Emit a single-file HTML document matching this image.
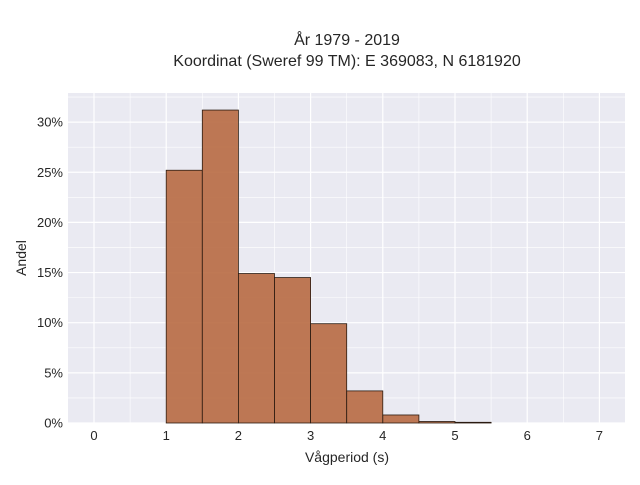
<!DOCTYPE html>
<html><head><meta charset="utf-8"><style>
body{margin:0;background:#fff;font-family:"Liberation Sans",sans-serif;}
svg text{font-family:"Liberation Sans",sans-serif;fill:#262626;}
</style></head><body>
<svg id="c" width="640" height="480">
<rect x="0" y="0" width="640" height="480" fill="#fff"/>
<text x="347" y="45" text-anchor="middle" font-size="16">År 1979 - 2019</text>
<text x="347" y="66" text-anchor="middle" font-size="16">Koordinat (Sweref 99 TM): E 369083, N 6181920</text>
<rect x="68" y="93" width="557" height="330" fill="#eaeaf2"/>
<g id="grid"></g><g id="bars"></g><g id="ticks"></g>
<text x="347" y="462" text-anchor="middle" font-size="14">Vågperiod (s)</text>
<text transform="translate(26,258) rotate(-90)" text-anchor="middle" font-size="14">Andel</text>
</svg>
<script>
const binStarts=[1,1.5,2,2.5,3,3.5,4,4.5,5];
const shares=[25.2,31.2,14.9,14.5,9.9,3.2,0.8,0.15,0.07];
const xTicks=[0,1,2,3,4,5,6,7];
const yTicks=[0,5,10,15,20,25,30];
const binWidth=0.5;
const X=v=>94+v*72.2, Y=v=>423-v*10.03;
const NS='http://www.w3.org/2000/svg';
const g=document.getElementById('grid'),b=document.getElementById('bars'),t=document.getElementById('ticks');
function mk(tag,attrs,parent){const e=document.createElementNS(NS,tag);for(const k in attrs)e.setAttribute(k,attrs[k]);parent.appendChild(e);return e;}
for(let v=-0.5;v<=7.5;v+=0.5){const x=X(v);if(x<68||x>625)continue;
const l=mk('line',{x1:x,x2:x,y1:93,y2:423,stroke:'#fff','stroke-width':Number.isInteger(v)?1.2:0.6},g);

}
for(let v=0;v<=32.5;v+=2.5){const y=Y(v);if(y<93)continue;
const l=mk('line',{x1:68,x2:625,y1:y,y2:y,stroke:'#fff','stroke-width':v%5===0?1.2:0.6},g);

}
binStarts.forEach((s,i)=>{const r=mk('rect',{x:X(s),y:Y(shares[i]),width:X(s+binWidth)-X(s),height:Y(0)-Y(shares[i]),fill:'#b86a42','fill-opacity':0.9,stroke:'#2a1a10','stroke-width':0.8},b);

});
xTicks.forEach(v=>{const e=mk('text',{x:X(v),y:440,'text-anchor':'middle','font-size':13},t);e.textContent=v;

});
yTicks.forEach(v=>{const e=mk('text',{x:63,y:Y(v)+4.5,'text-anchor':'end','font-size':13},t);e.textContent=v+'%';

});
</script>
</body></html>
